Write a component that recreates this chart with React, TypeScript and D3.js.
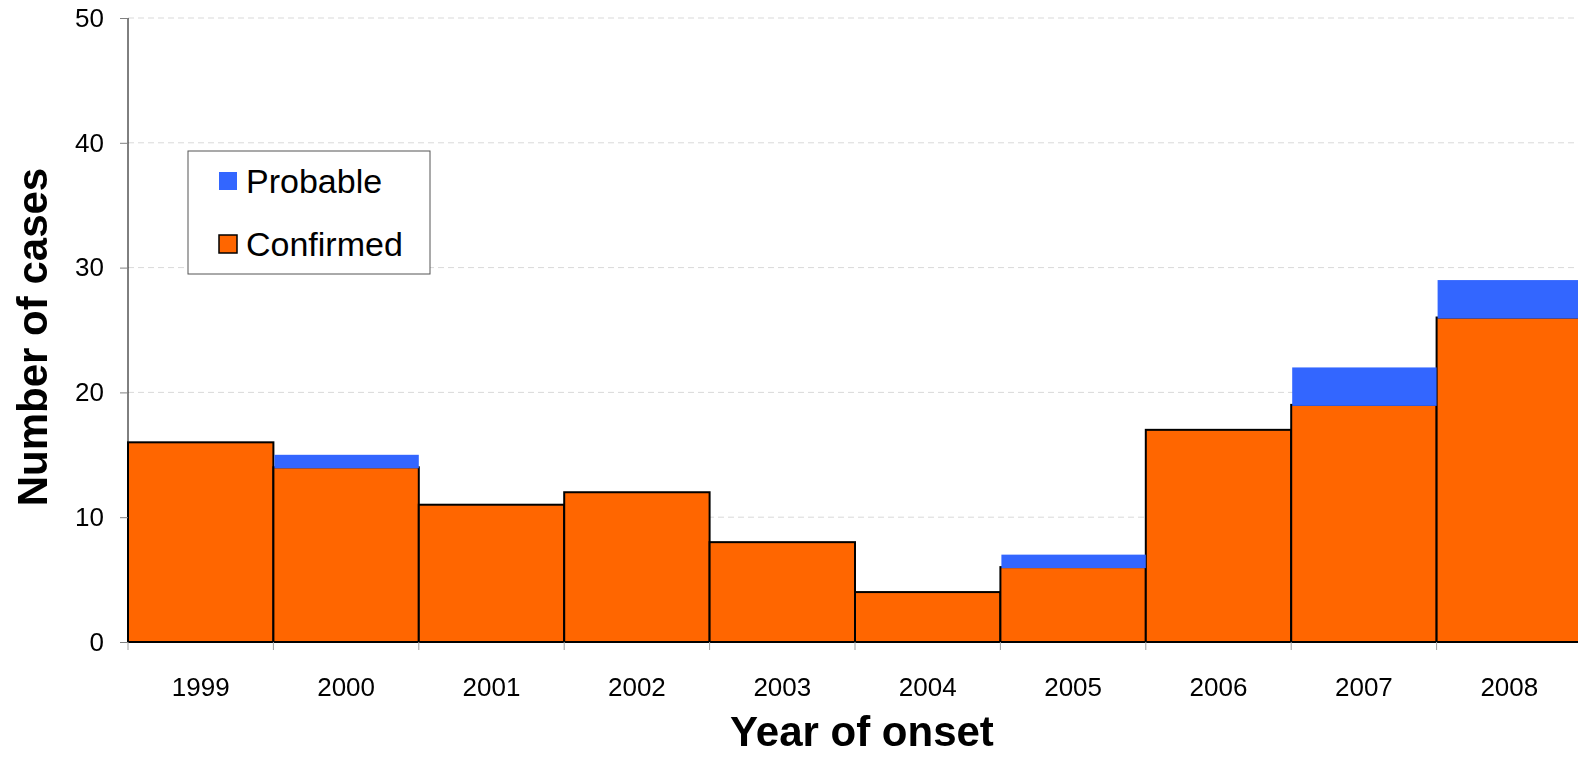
import { useEffect, useRef } from 'react'
import * as d3 from 'd3'

// ─── Data ────────────────────────────────────────────────────────────────────

const years = ['1999', '2000', '2001', '2002', '2003', '2004', '2005', '2006', '2007', '2008']
const confirmed = [16, 14, 11, 12, 8, 4, 6, 17, 19, 26]
const probable = [0, 1, 0, 0, 0, 0, 1, 0, 3, 3]
const yTicks = [0, 10, 20, 30, 40, 50]

const ORANGE = '#ff6600'
const BLUE = '#3366ff'
const FONT = '"Liberation Sans", Arial, sans-serif'

const W = 1578
const H = 757

// ─── Component ───────────────────────────────────────────────────────────────

export default function App() {
  const ref = useRef<SVGSVGElement>(null)

  useEffect(() => {
    document.body.style.margin = '0'
    document.body.style.overflow = 'hidden'
    if (!ref.current) return
    const svg = d3.select(ref.current)
    svg.selectAll('*').remove()

    const margin = { top: 18, right: -4, bottom: 115, left: 128 }
    const inner = { w: W - margin.left - margin.right, h: H - margin.top - margin.bottom }

    svg.style('font-family', FONT)

    const g = svg.append('g').attr('transform', `translate(${margin.left},${margin.top})`)

    const x = d3.scaleBand().domain(years).range([0, inner.w]).padding(0)
    const y = d3.scaleLinear().domain([0, 50]).range([inner.h, 0])

    // Grid
    g.append('g')
      .selectAll('line')
      .data(yTicks.filter((t) => t > 0))
      .join('line')
      .attr('x1', 0)
      .attr('x2', inner.w)
      .attr('y1', (d) => y(d))
      .attr('y2', (d) => y(d))
      .attr('stroke', '#d9d9d9')
      .attr('stroke-dasharray', '6,4')

    // Confirmed bars
    g.selectAll('.conf')
      .data(years)
      .join('rect')
      .attr('class', 'conf')
      .attr('x', (d) => x(d)!)
      .attr('y', (_, i) => y(confirmed[i]))
      .attr('width', x.bandwidth())
      .attr('height', (_, i) => inner.h - y(confirmed[i]))
      .attr('fill', ORANGE)
      .attr('stroke', '#000')
      .attr('stroke-width', 2)

    // Probable bars (stacked on top, no outline)
    g.selectAll('.prob')
      .data(years.filter((_, i) => probable[i] > 0))
      .join('rect')
      .attr('class', 'prob')
      .attr('x', (d) => x(d)! + 1)
      .attr('y', (d) => {
        const i = years.indexOf(d)
        return y(confirmed[i] + probable[i])
      })
      .attr('width', x.bandwidth() - 1)
      .attr('height', (d) => {
        const i = years.indexOf(d)
        return y(confirmed[i]) - y(confirmed[i] + probable[i]) + 1
      })
      .attr('fill', BLUE)

    // Y axis
    g.append('line')
      .attr('x1', 0)
      .attr('x2', 0)
      .attr('y1', 0)
      .attr('y2', inner.h)
      .attr('stroke', '#000')
      .attr('stroke-width', 1)

    g.append('g')
      .call(d3.axisLeft(y).tickValues(yTicks).tickSize(8).tickPadding(16))
      .call((sel) => sel.select('.domain').remove())
      .call((sel) => sel.selectAll('line').attr('stroke', '#808080'))
      .call((sel) =>
        sel.selectAll('text').attr('font-size', 26).attr('font-family', FONT).attr('fill', '#000'),
      )

    // X axis
    g.append('line')
      .attr('x1', 0)
      .attr('x2', inner.w)
      .attr('y1', inner.h)
      .attr('y2', inner.h)
      .attr('stroke', '#000')
      .attr('stroke-width', 2)

    const bounds = years.map((d) => x(d)!).concat([inner.w])
    g.append('g')
      .selectAll('line')
      .data(bounds)
      .join('line')
      .attr('x1', (d) => d)
      .attr('x2', (d) => d)
      .attr('y1', inner.h)
      .attr('y2', inner.h + 8)
      .attr('stroke', '#a0a0a0')

    g.append('g')
      .selectAll('text')
      .data(years)
      .join('text')
      .attr('x', (d) => x(d)! + x.bandwidth() / 2)
      .attr('y', inner.h + 54)
      .attr('text-anchor', 'middle')
      .attr('font-size', 26)
      .attr('fill', '#000')
      .text((d) => d)

    // Axis titles
    svg.append('text')
      .attr('x', 862)
      .attr('y', 746)
      .attr('text-anchor', 'middle')
      .attr('font-size', 42)
      .attr('font-weight', 'bold')
      .attr('fill', '#000')
      .text('Year of onset')

    svg.append('text')
      .attr('transform', `translate(47,337) rotate(-90)`)
      .attr('text-anchor', 'middle')
      .attr('font-size', 42)
      .attr('font-weight', 'bold')
      .attr('fill', '#000')
      .text('Number of cases')

    // Legend
    const lg = svg.append('g').attr('transform', 'translate(188,151)')
    lg.append('rect')
      .attr('width', 242)
      .attr('height', 123)
      .attr('fill', '#fff')
      .attr('stroke', '#555')
      .attr('stroke-width', 1)
    const items = [
      { label: 'Probable', color: BLUE, stroke: 'none', y: 21 },
      { label: 'Confirmed', color: ORANGE, stroke: '#000', y: 84 },
    ]
    items.forEach((it) => {
      lg.append('rect')
        .attr('x', 31)
        .attr('y', it.y)
        .attr('width', 18)
        .attr('height', 18)
        .attr('fill', it.color)
        .attr('stroke', it.stroke)
        .attr('stroke-width', 1.5)
      lg.append('text')
        .attr('x', 58)
        .attr('y', it.y + 21)
        .attr('font-size', 34)
        .attr('fill', '#000')
        .text(it.label)
    })
  }, [])

  return (
    <svg
      ref={ref}
      viewBox={`0 0 ${W} ${H}`}
      preserveAspectRatio="none"
      style={{ display: 'block', position: 'fixed', left: 0, top: 0, width: '100vw', height: '100vh' }}
    />
  )
}
